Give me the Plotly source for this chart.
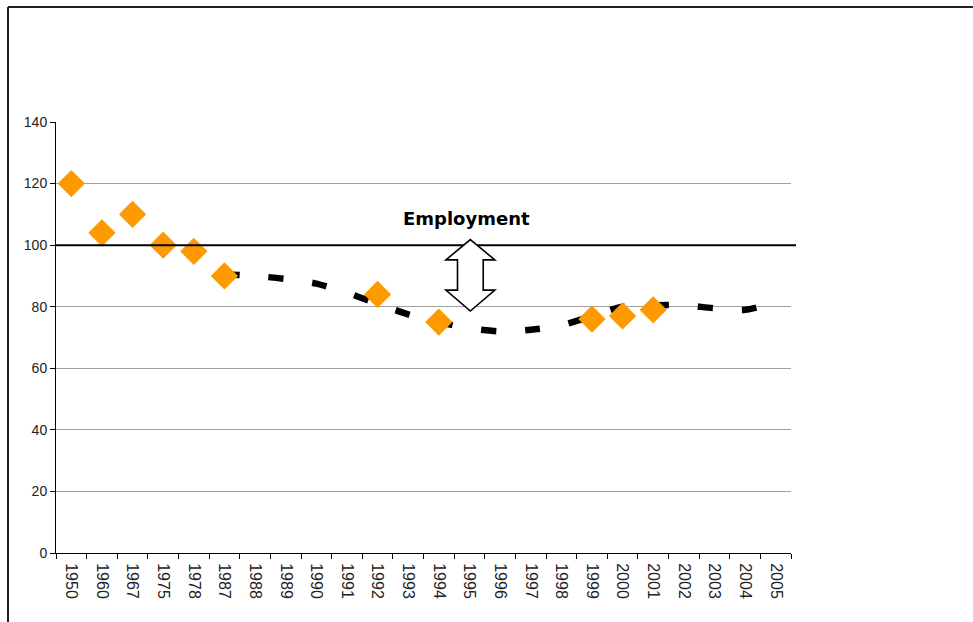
import plotly.graph_objects as go

# Category axis: survey years
years = ["1950", "1960", "1967", "1975", "1978", "1987", "1988", "1989", "1990",
         "1991", "1992", "1993", "1994", "1995", "1996", "1997", "1998", "1999",
         "2000", "2001", "2002", "2003", "2004", "2005"]

# Observed index values (orange diamonds)
obs_years = ["1950", "1960", "1967", "1975", "1978", "1987", "1992", "1994",
             "1999", "2000", "2001"]
obs_values = [120, 104, 110, 100, 98, 90, 84, 75, 76, 77, 79]

# Employment series (dashed curve)
emp_years = ["1987", "1988", "1989", "1990", "1991", "1992", "1993", "1994",
             "1995", "1996", "1997", "1998", "1999", "2000", "2001", "2002",
             "2003", "2004", "2005"]
emp_values = [90.5, 90, 89, 87.5, 84.5, 81, 77.5, 75, 73, 72, 72.5, 74, 77,
              80, 80.5, 80.5, 79.5, 79, 81.5]

baseline = 100
y_ticks = [0, 20, 40, 60, 80, 100, 120, 140]

fig = go.Figure()

fig.add_trace(go.Scatter(
    x=emp_years, y=emp_values, mode="lines",
    line=dict(color="black", width=6.5, dash="15px,29px", shape="spline", smoothing=0.8),
    hoverinfo="skip", showlegend=False,
))

fig.add_trace(go.Scatter(
    x=obs_years, y=obs_values, mode="markers",
    marker=dict(symbol="diamond", size=21, color="#FF9900", line=dict(width=0)),
    showlegend=False,
))

# Reference level at 100
fig.add_shape(type="line", xref="paper", yref="y", x0=0, x1=1.0068,
              y0=baseline, y1=baseline, line=dict(color="black", width=2), layer="above")

# Double-headed block arrow between the reference level and the curve
cx = years.index("1995") + 0.03
hw, sw = 0.8, 0.42
top, top_base, bot_base, bot = 101.8, 95.2, 85.4, 78.6
arrow_path = (
    f"M {cx} {top} L {cx + hw} {top_base} L {cx + sw} {top_base} "
    f"L {cx + sw} {bot_base} L {cx + hw} {bot_base} L {cx} {bot} "
    f"L {cx - hw} {bot_base} L {cx - sw} {bot_base} L {cx - sw} {top_base} "
    f"L {cx - hw} {top_base} Z"
)
fig.add_shape(type="path", xref="x", yref="y", path=arrow_path,
              fillcolor="white", line=dict(color="black", width=1.6), layer="above")

fig.add_annotation(
    x=years.index("1995") - 0.1, y=108.5, xref="x", yref="y",
    text="<b>Employment</b>", showarrow=False,
    font=dict(family="Verdana, DejaVu Sans", size=18, color="black"),
)

# Outer frame (top and left edges)
fig.add_shape(type="line", xref="paper", yref="paper", x0=-0.0653, x1=1.26,
              y0=1.2668, y1=1.2668, line=dict(color="#222", width=2))
fig.add_shape(type="line", xref="paper", yref="paper", x0=-0.0653, x1=-0.0653,
              y0=1.2668, y1=-0.17, line=dict(color="#222", width=2))

fig.update_layout(
    width=973, height=622,
    margin=dict(l=56, r=182, t=122, b=69),
    paper_bgcolor="white", plot_bgcolor="white",
    font=dict(family="Liberation Sans, Arial", size=14, color="#222"),
    showlegend=False,
)

fig.update_xaxes(
    type="category", categoryorder="array", categoryarray=years,
    range=[-0.5, len(years) - 0.5],
    showline=True, linecolor="black", linewidth=1,
    ticks="outside", ticklen=5, tickcolor="black", tickson="boundaries",
    tickangle=90, showgrid=False, zeroline=False, ticklabelstandoff=6,
    tickfont=dict(family="Liberation Sans, Arial", size=16, color="#222"),
)

fig.update_yaxes(
    range=[0, 140], tickvals=y_ticks,
    showline=True, linecolor="black", linewidth=1,
    ticks="outside", ticklen=5, tickcolor="black",
    showgrid=True, gridcolor="#a0a0a0", gridwidth=1, zeroline=False,
    tickfont=dict(family="Liberation Sans, Arial", size=14, color="#222"),
)

fig.write_html("out.html")
